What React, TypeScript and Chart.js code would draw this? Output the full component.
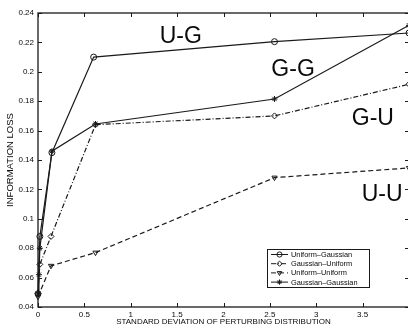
import React, { useEffect, useRef } from 'react';
import { Chart, registerables } from 'chart.js';
import { drawPoint } from 'chart.js/helpers';

Chart.register(...registerables);

// ---- data ----
const seriesNames = ['Uniform–Gaussian', 'Gaussian–Uniform', 'Uniform–Uniform', 'Gaussian–Gaussian'];

const ugX = [0, 0.02, 0.15, 0.6, 2.55, 4];
const ugY = [0.049, 0.088, 0.145, 0.21, 0.2205, 0.2264];

const guX = [0, 0.02, 0.14, 0.62, 2.55, 4];
const guY = [0.049, 0.069, 0.088, 0.164, 0.17, 0.1915];

const uuX = [0, 0.14, 0.62, 2.55, 4];
const uuY = [0.047, 0.068, 0.077, 0.128, 0.1346];

const ggX = [0, 0.01, 0.02, 0.15, 0.62, 2.55, 4];
const ggY = [0.049, 0.062, 0.08, 0.146, 0.1645, 0.1815, 0.2316];

const xTicks = [0, 0.5, 1, 1.5, 2, 2.5, 3, 3.5, 4];
const xTickLabels = ['0', '0.5', '1', '1.5', '2', '2.5', '3', '3.5', ''];
const yTicks = [0.04, 0.06, 0.08, 0.1, 0.12, 0.14, 0.16, 0.18, 0.2, 0.22, 0.24];
const yTickLabels = ['0.04', '0.06', '0.08', '0.1', '0.12', '0.14', '0.16', '0.18', '0.2', '0.22', '0.24'];

const tagText = ['U-G', 'G-G', 'G-U', 'U-U'];
const tagX = [1.54, 2.75, 3.61, 3.71];
const tagY = [0.2237, 0.2012, 0.1679, 0.1162];

const xTitle = 'STANDARD DEVIATION OF PERTURBING DISTRIBUTION';
const yTitle = 'INFORMATION LOSS';

// ---- styles ----
const FONT = '"Liberation Sans", Arial, Helvetica, sans-serif';
const INK = '#1a1a1a';
const TEXT = '#0a0a0a';

const toPts = (xs: number[], ys: number[]) => xs.map((x, i) => ({ x, y: ys[i] }));

const seriesStyle = [
  { pointStyle: 'circle', rotation: 0, dash: [] as number[] },
  { pointStyle: 'rectRot', rotation: 0, dash: [5, 2, 1, 2] },
  { pointStyle: 'triangle', rotation: 180, dash: [5, 3] },
  { pointStyle: 'star', rotation: 0, dash: [] as number[] },
];

const framePlugin = {
  id: 'frame',
  afterDatasetsDraw(chart: any) {
    const { ctx, chartArea: a, scales } = chart;
    ctx.save();
    ctx.strokeStyle = INK;
    ctx.lineWidth = 1.3;
    ctx.strokeRect(a.left, a.top, a.right - a.left, a.bottom - a.top);
    ctx.lineWidth = 1;
    ctx.beginPath();
    scales.x.ticks.forEach((t: any) => {
      const px = Math.round(scales.x.getPixelForValue(t.value)) + 0.5;
      ctx.moveTo(px, a.bottom);
      ctx.lineTo(px, a.bottom - 4);
      ctx.moveTo(px, a.top);
      ctx.lineTo(px, a.top + 4);
    });
    scales.y.ticks.forEach((t: any) => {
      const py = Math.round(scales.y.getPixelForValue(t.value)) + 0.5;
      ctx.moveTo(a.left, py);
      ctx.lineTo(a.left + 4, py);
      ctx.moveTo(a.right, py);
      ctx.lineTo(a.right - 4, py);
    });
    ctx.stroke();
    ctx.restore();
  },
};

const tagPlugin = {
  id: 'tags',
  afterDatasetsDraw(chart: any) {
    const { ctx, scales } = chart;
    ctx.save();
    ctx.fillStyle = TEXT;
    ctx.font = `23px ${FONT}`;
    ctx.textAlign = 'center';
    ctx.textBaseline = 'middle';
    tagText.forEach((t, i) => {
      ctx.fillText(t, scales.x.getPixelForValue(tagX[i]), scales.y.getPixelForValue(tagY[i]));
    });
    ctx.restore();
  },
};

const legendBox = { x: 267, y: 249, w: 102, h: 38, row: 9.2 };

const legendPlugin = {
  id: 'boxLegend',
  afterDraw(chart: any) {
    const { ctx } = chart;
    const b = legendBox;
    ctx.save();
    ctx.fillStyle = '#fff';
    ctx.fillRect(b.x, b.y, b.w, b.h);
    ctx.strokeStyle = INK;
    ctx.lineWidth = 1;
    ctx.strokeRect(b.x + 0.5, b.y + 0.5, b.w, b.h);
    chart.data.datasets.forEach((ds: any, i: number) => {
      const cy = b.y + 5.5 + i * b.row;
      ctx.strokeStyle = INK;
      ctx.lineWidth = 1;
      ctx.setLineDash(ds.borderDash || []);
      ctx.beginPath();
      ctx.moveTo(b.x + 4, cy);
      ctx.lineTo(b.x + 21, cy);
      ctx.stroke();
      ctx.setLineDash([]);
      ctx.fillStyle = 'rgba(0,0,0,0)';
      drawPoint(ctx, { pointStyle: ds.pointStyle, rotation: ds.pointRotation || 0, radius: 2.6, borderWidth: 1 }, b.x + 12.5, cy);
      ctx.fillStyle = TEXT;
      ctx.font = `7.4px ${FONT}`;
      ctx.textAlign = 'left';
      ctx.textBaseline = 'middle';
      ctx.fillText(ds.label, b.x + 24, cy + 0.5);
    });
    ctx.restore();
  },
};

export default function App() {
  const ref = useRef<HTMLCanvasElement | null>(null);

  useEffect(() => {
    if (!ref.current) return;
    const dataSets = [toPts(ugX, ugY), toPts(guX, guY), toPts(uuX, uuY), toPts(ggX, ggY)];
    const chart = new Chart(ref.current, {
      type: 'line',
      data: {
        datasets: dataSets.map((d, i) => ({
          label: seriesNames[i],
          data: d,
          borderColor: INK,
          borderWidth: 1.2,
          borderDash: seriesStyle[i].dash,
          pointStyle: seriesStyle[i].pointStyle as any,
          pointRotation: seriesStyle[i].rotation,
          pointRadius: 3,
          pointBorderWidth: 1,
          pointBorderColor: INK,
          pointBackgroundColor: 'rgba(0,0,0,0)',
          fill: false,
          tension: 0,
          clip: false as any,
        })),
      },
      options: {
        responsive: false,
        animation: false,
        devicePixelRatio: 1,
        layout: { padding: { top: 13, right: 3, left: 0, bottom: 0 } },
        plugins: { legend: { display: false }, tooltip: { enabled: false } },
        scales: {
          x: {
            type: 'linear',
            min: 0,
            max: 4,
            afterBuildTicks: (s: any) => {
              s.ticks = xTicks.map((v) => ({ value: v }));
            },
            afterFit: (s: any) => {
              s.height = 25;
            },
            ticks: {
              callback: (_v: any, i: number) => xTickLabels[i],
              font: { family: FONT, size: 8 },
              color: TEXT,
              padding: 3,
              maxRotation: 0,
              autoSkip: false,
            },
            grid: { display: false, drawTicks: false, tickLength: 0 },
            border: { display: false },
            title: {
              display: true,
              text: xTitle,
              font: { family: FONT, size: 8 },
              color: TEXT,
              padding: { top: 0, bottom: 5 },
            },
          },
          y: {
            type: 'linear',
            min: 0.04,
            max: 0.24,
            afterBuildTicks: (s: any) => {
              s.ticks = yTicks.map((v) => ({ value: v }));
            },
            afterFit: (s: any) => {
              s.width = 38;
            },
            ticks: {
              callback: (_v: any, i: number) => yTickLabels[i],
              font: { family: FONT, size: 8 },
              color: TEXT,
              padding: 4,
              autoSkip: false,
            },
            grid: { display: false, drawTicks: false, tickLength: 0 },
            border: { display: false },
            title: {
              display: true,
              text: yTitle,
              font: { family: FONT, size: 9.5 },
              color: TEXT,
              padding: { top: 5, bottom: 0 },
            },
          },
        },
      },
      plugins: [framePlugin, tagPlugin, legendPlugin],
    });
    return () => chart.destroy();
  }, []);

  return (
    <div style={{ position: 'absolute', left: 0, top: 0, width: 408, height: 332, overflow: 'hidden', background: '#fff' }}>
      <canvas ref={ref} width={414} height={332} style={{ width: 414, height: 332, display: 'block' }} />
    </div>
  );
}
